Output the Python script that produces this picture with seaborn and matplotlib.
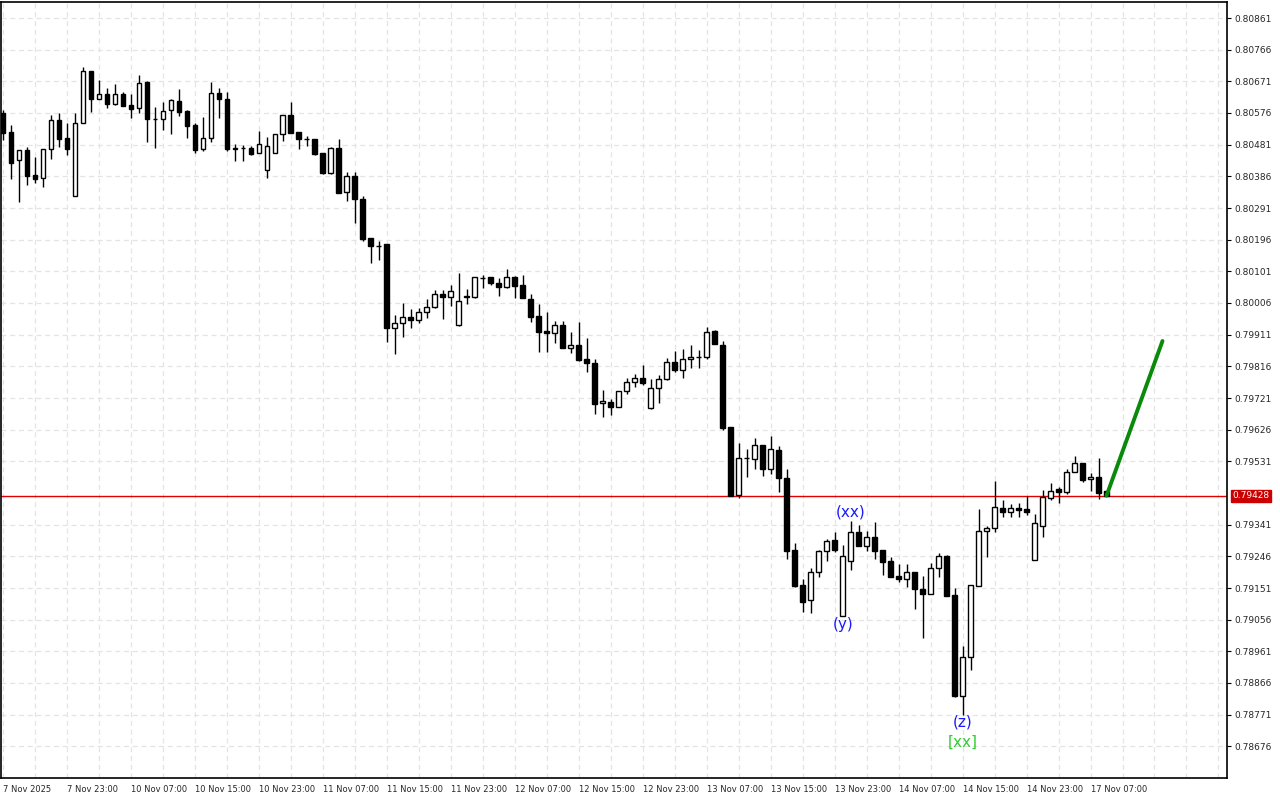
import matplotlib
matplotlib.use("Agg")
import matplotlib.pyplot as plt
import matplotlib.transforms as mtransforms
import numpy as np
import pandas as pd
import seaborn as sns

# hourly bars, 7 Nov 2025 15:00 .. 17 Nov 2025 09:00
opens = [0.80576, 0.80519, 0.80435, 0.80465, 0.80390, 0.80381, 0.80468, 0.80555, 0.80501, 0.80327,
         0.80546, 0.80702, 0.80618, 0.80633, 0.80603, 0.80633, 0.80600, 0.80591, 0.80669, 0.80558,
         0.80558, 0.80585, 0.80612, 0.80582, 0.80540, 0.80468, 0.80501, 0.80636, 0.80618, 0.80468,
         0.80471, 0.80471, 0.80456, 0.80405, 0.80456, 0.80513, 0.80570, 0.80519, 0.80498, 0.80498,
         0.80456, 0.80396, 0.80471, 0.80339, 0.80387, 0.80318, 0.80201, 0.80177, 0.80183, 0.79931,
         0.79946, 0.79964, 0.79955, 0.79979, 0.79994, 0.80033, 0.80024, 0.79940, 0.80024, 0.80024,
         0.80081, 0.80084, 0.80066, 0.80054, 0.80084, 0.80060, 0.80018, 0.79967, 0.79922, 0.79916,
         0.79940, 0.79871, 0.79880, 0.79838, 0.79826, 0.79706, 0.79709, 0.79694, 0.79742, 0.79769,
         0.79781, 0.79691, 0.79751, 0.79778, 0.79829, 0.79805, 0.79838, 0.79844, 0.79844, 0.79922,
         0.79880, 0.79634, 0.79430, 0.79541, 0.79538, 0.79580, 0.79508, 0.79565, 0.79481, 0.79265,
         0.79160, 0.79115, 0.79199, 0.79262, 0.79295, 0.79067, 0.79232, 0.79319, 0.79277, 0.79304,
         0.79265, 0.79232, 0.79187, 0.79178, 0.79199, 0.79148, 0.79133, 0.79211, 0.79247, 0.79130,
         0.78827, 0.78944, 0.79157, 0.79322, 0.79331, 0.79391, 0.79379, 0.79391, 0.79388, 0.79235,
         0.79337, 0.79421, 0.79448, 0.79439, 0.79499, 0.79526, 0.79478, 0.79484, 0.79442]
highs = [0.80585, 0.80540, 0.80465, 0.80474, 0.80444, 0.80468, 0.80570, 0.80576, 0.80546, 0.80576,
         0.80714, 0.80702, 0.80675, 0.80651, 0.80663, 0.80639, 0.80633, 0.80690, 0.80672, 0.80594,
         0.80609, 0.80618, 0.80648, 0.80585, 0.80546, 0.80564, 0.80669, 0.80651, 0.80639, 0.80483,
         0.80480, 0.80477, 0.80522, 0.80504, 0.80513, 0.80570, 0.80609, 0.80519, 0.80507, 0.80498,
         0.80456, 0.80474, 0.80498, 0.80399, 0.80399, 0.80327, 0.80201, 0.80192, 0.80183, 0.79970,
         0.80006, 0.79988, 0.79991, 0.80018, 0.80045, 0.80045, 0.80060, 0.80096, 0.80048, 0.80084,
         0.80090, 0.80084, 0.80081, 0.80108, 0.80087, 0.80090, 0.80033, 0.80003, 0.79979, 0.79952,
         0.79952, 0.79919, 0.79949, 0.79901, 0.79838, 0.79745, 0.79718, 0.79742, 0.79781, 0.79793,
         0.79820, 0.79778, 0.79790, 0.79841, 0.79862, 0.79868, 0.79880, 0.79865, 0.79934, 0.79925,
         0.79892, 0.79634, 0.79586, 0.79568, 0.79601, 0.79580, 0.79607, 0.79577, 0.79508, 0.79286,
         0.79178, 0.79211, 0.79265, 0.79298, 0.79319, 0.79280, 0.79352, 0.79340, 0.79322, 0.79349,
         0.79265, 0.79244, 0.79223, 0.79223, 0.79199, 0.79187, 0.79226, 0.79256, 0.79250, 0.79151,
         0.78977, 0.79160, 0.79388, 0.79337, 0.79472, 0.79415, 0.79403, 0.79406, 0.79427, 0.79373,
         0.79445, 0.79466, 0.79454, 0.79508, 0.79547, 0.79526, 0.79496, 0.79541, 0.79442]
lows = [0.80495, 0.80378, 0.80309, 0.80360, 0.80366, 0.80354, 0.80438, 0.80474, 0.80450, 0.80327,
        0.80546, 0.80579, 0.80618, 0.80591, 0.80600, 0.80597, 0.80561, 0.80576, 0.80489, 0.80471,
        0.80525, 0.80513, 0.80567, 0.80501, 0.80456, 0.80462, 0.80489, 0.80561, 0.80462, 0.80432,
        0.80432, 0.80450, 0.80456, 0.80381, 0.80456, 0.80492, 0.80516, 0.80468, 0.80477, 0.80450,
        0.80393, 0.80393, 0.80336, 0.80312, 0.80246, 0.80192, 0.80126, 0.80135, 0.79889, 0.79853,
        0.79904, 0.79931, 0.79946, 0.79961, 0.79991, 0.79958, 0.79997, 0.79937, 0.80003, 0.80021,
        0.80051, 0.80060, 0.80027, 0.80051, 0.80021, 0.80021, 0.79949, 0.79859, 0.79859, 0.79886,
        0.79871, 0.79856, 0.79832, 0.79799, 0.79673, 0.79664, 0.79670, 0.79694, 0.79733, 0.79754,
        0.79760, 0.79688, 0.79706, 0.79775, 0.79799, 0.79781, 0.79811, 0.79811, 0.79838, 0.79883,
        0.79625, 0.79427, 0.79421, 0.79484, 0.79508, 0.79487, 0.79493, 0.79439, 0.79238, 0.79154,
        0.79079, 0.79076, 0.79184, 0.79232, 0.79259, 0.79067, 0.79205, 0.79277, 0.79262, 0.79238,
        0.79190, 0.79184, 0.79169, 0.79154, 0.79088, 0.79001, 0.79133, 0.79184, 0.79127, 0.78824,
        0.78770, 0.78905, 0.79157, 0.79244, 0.79319, 0.79364, 0.79364, 0.79364, 0.79370, 0.79235,
        0.79304, 0.79415, 0.79406, 0.79433, 0.79499, 0.79469, 0.79442, 0.79418, 0.79427]
closes = [0.80516, 0.80426, 0.80465, 0.80387, 0.80378, 0.80468, 0.80555, 0.80498, 0.80468, 0.80546,
          0.80702, 0.80618, 0.80633, 0.80603, 0.80633, 0.80597, 0.80588, 0.80666, 0.80558, 0.80557,
          0.80582, 0.80615, 0.80579, 0.80537, 0.80465, 0.80501, 0.80636, 0.80618, 0.80468, 0.80471,
          0.80470, 0.80453, 0.80483, 0.80477, 0.80513, 0.80570, 0.80516, 0.80498, 0.80497, 0.80453,
          0.80396, 0.80471, 0.80336, 0.80387, 0.80318, 0.80198, 0.80177, 0.80176, 0.79931, 0.79946,
          0.79964, 0.79955, 0.79979, 0.79994, 0.80033, 0.80024, 0.80042, 0.80012, 0.80027, 0.80084,
          0.80080, 0.80066, 0.80054, 0.80084, 0.80057, 0.80021, 0.79964, 0.79919, 0.79916, 0.79940,
          0.79871, 0.79880, 0.79835, 0.79826, 0.79703, 0.79712, 0.79694, 0.79742, 0.79769, 0.79781,
          0.79766, 0.79751, 0.79778, 0.79829, 0.79805, 0.79838, 0.79844, 0.79843, 0.79919, 0.79883,
          0.79631, 0.79427, 0.79541, 0.79540, 0.79580, 0.79508, 0.79568, 0.79481, 0.79262, 0.79157,
          0.79109, 0.79199, 0.79262, 0.79292, 0.79265, 0.79247, 0.79319, 0.79277, 0.79304, 0.79262,
          0.79229, 0.79184, 0.79178, 0.79199, 0.79148, 0.79133, 0.79211, 0.79247, 0.79127, 0.78827,
          0.78944, 0.79160, 0.79322, 0.79331, 0.79394, 0.79379, 0.79391, 0.79385, 0.79379, 0.79346,
          0.79424, 0.79442, 0.79439, 0.79499, 0.79526, 0.79475, 0.79484, 0.79436, 0.79428]

x_labels = ["7 Nov 2025", "7 Nov 23:00", "10 Nov 07:00", "10 Nov 15:00", "10 Nov 23:00",
            "11 Nov 07:00", "11 Nov 15:00", "11 Nov 23:00", "12 Nov 07:00", "12 Nov 15:00",
            "12 Nov 23:00", "13 Nov 07:00", "13 Nov 15:00", "13 Nov 23:00", "14 Nov 07:00",
            "14 Nov 15:00", "14 Nov 23:00", "17 Nov 07:00"]
y_ticks = [0.78676, 0.78771, 0.78866, 0.78961, 0.79056, 0.79151, 0.79246, 0.79341,
           0.79531, 0.79626, 0.79721, 0.79816, 0.79911, 0.80006, 0.80101, 0.80196,
           0.80291, 0.80386, 0.80481, 0.80576, 0.80671, 0.80766, 0.80861]

last_price = 0.79428
# projected move (from last bar to 7 bars ahead)
proj_bars = [138, 145]
proj_prices = [0.79428, 0.79892]

# wave labels: (bar, price, text, colour)
wave_labels = [(106, 0.79379, "(xx)", "#1a1aff"),
               (105.1, 0.79040, "(y)", "#1a1aff"),
               (120, 0.78749, "(z)", "#1a1aff"),
               (120, 0.78689, "[xx]", "#33cc33")]

df = pd.DataFrame({"open": opens, "high": highs, "low": lows, "close": closes})
df["bar"] = np.arange(len(df))
df["up"] = df["close"] >= df["open"]

sns.set_style("white")
plt.rcParams["font.family"] = ["DejaVu Sans"]

fig = plt.figure(figsize=(12.8, 8), dpi=100)
ax = fig.add_axes([0.0008, 0.0275, 0.958, 0.97])

# grid
ax.set_yticks(y_ticks)
ax.set_xticks(np.arange(0, 137, 8))
ax.set_xticks(np.arange(0, 153, 4), minor=True)
ax.grid(True, which="both", color="#e4e4e4", linestyle=(0, (4, 3)), linewidth=0.9)
ax.set_axisbelow(True)

# wicks
ax.vlines(df["bar"], df["low"], df["high"], color="black", linewidth=1.0, zorder=2)
# bodies
body = (df["close"] - df["open"]).where((df["close"] - df["open"]).abs() > 0.000015, 0.000015)
ax.bar(df["bar"], body, bottom=df["open"], width=0.6,
       color=np.where(df["up"], "white", "black"), edgecolor="black", linewidth=1.0, zorder=3)

# current price line
ax.axhline(last_price, color="#e00000", linewidth=1, zorder=1)
trans = mtransforms.blended_transform_factory(ax.transAxes, ax.transData)
ax.text(1.004, last_price, "%.5f" % last_price, transform=trans, color="white", fontsize=6.5,
        va="center", ha="left", clip_on=False,
        bbox=dict(boxstyle="square,pad=0.18", fc="#cc0000", ec="#cc0000"))

# projection
sns.lineplot(x=proj_bars, y=proj_prices, ax=ax, color="#0a8a0a", linewidth=2.8, zorder=4)

for b, p, t, c in wave_labels:
    ax.text(b, p, t, color=c, fontsize=11, ha="center", va="center", zorder=5)

ax.set_xlim(-0.25, 153.1)
ax.set_ylim(0.78581, 0.80909)

ax.yaxis.tick_right()
ax.set_yticklabels(["%.5f" % v for v in y_ticks], fontsize=6.5)
ax.set_xticklabels(x_labels, fontsize=6, ha="left")
ax.tick_params(axis="both", which="major", direction="out", length=3, color="black", pad=2)
ax.tick_params(axis="x", which="minor", length=0)
ax.set_xlabel("")
ax.set_ylabel("")
for s in ax.spines.values():
    s.set_visible(True)
    s.set_color("black")
    s.set_linewidth(1.2)

fig.savefig("out.png", dpi=100, facecolor="white")
